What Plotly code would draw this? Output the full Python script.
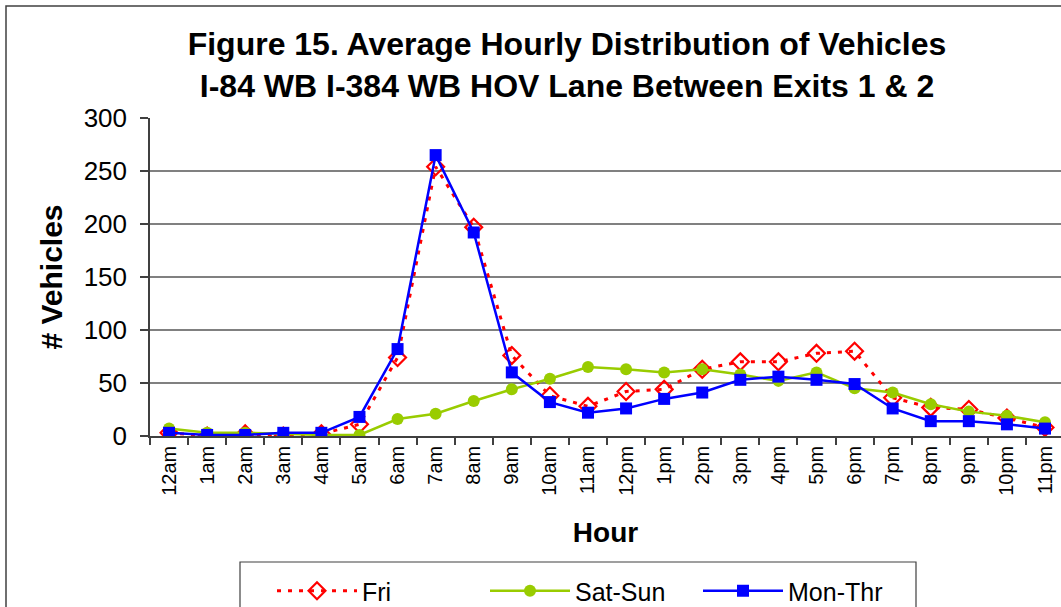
import plotly.graph_objects as go

hours = ["12am", "1am", "2am", "3am", "4am", "5am", "6am", "7am", "8am", "9am", "10am", "11am",
         "12pm", "1pm", "2pm", "3pm", "4pm", "5pm", "6pm", "7pm", "8pm", "9pm", "10pm", "11pm"]
fri = [3, 0, 2, 0, 2, 11, 74, 254, 197, 76, 38, 28, 42, 44, 63, 70, 70, 78, 80, 36, 27, 25, 17, 8]
sat_sun = [7, 3, 3, 2, 1, 1, 16, 21, 33, 44, 54, 65, 63, 60, 63, 58, 52, 60, 45, 41, 30, 23, 19, 13]
mon_thr = [3, 1, 1, 3, 3, 18, 82, 265, 192, 60, 32, 22, 26, 35, 41, 53, 56, 53, 49, 26, 14, 14, 11, 7]
y_ticks = [0, 50, 100, 150, 200, 250, 300]

FONT = "Arial, Liberation Sans, sans-serif"

fig = go.Figure()
fig.add_trace(go.Scatter(
    x=hours, y=fri, name="Fri", mode="lines+markers",
    line=dict(color="#FF0000", width=3, dash="4px,7px"),
    marker=dict(symbol="diamond-open", size=13, color="#FF0000", line=dict(width=2.2, color="#FF0000")),
))
fig.add_trace(go.Scatter(
    x=hours, y=sat_sun, name="Sat-Sun", mode="lines+markers",
    line=dict(color="#99CC00", width=2.5),
    marker=dict(symbol="circle", size=12, color="#99CC00"),
))
fig.add_trace(go.Scatter(
    x=hours, y=mon_thr, name="Mon-Thr", mode="lines+markers",
    line=dict(color="#0000FF", width=2.5),
    marker=dict(symbol="square", size=12, color="#0000FF"),
))

fig.update_layout(
    width=1061, height=607,
    margin=dict(l=150, r=0, t=118, b=171),
    paper_bgcolor="white", plot_bgcolor="white",
    font=dict(family=FONT, color="black"),
    title=dict(
        text="<b>Figure 15. Average Hourly Distribution of Vehicles<br>I-84 WB I-384 WB HOV Lane Between Exits 1 & 2</b>",
        x=567 / 1061, xanchor="center", xref="container",
        y=1 - 55 / 607, yanchor="middle", yref="container",
        font=dict(size=32, family=FONT, color="black"),
    ),
    showlegend=True,
    legend=dict(
        orientation="h", x=(272 - 150) / 911, xanchor="left",
        yref="container", y=(607 - 591) / 607, yanchor="middle",
        font=dict(size=25, family=FONT), itemwidth=80, entrywidth=118, entrywidthmode="pixels",
        bgcolor="rgba(0,0,0,0)",
    ),
    xaxis=dict(
        type="category", range=[-0.5, 23.42], automargin=False,
        showline=True, linecolor="#404040", linewidth=1.5,
        ticks="outside", tickson="boundaries", ticklen=7, tickcolor="#404040", tickwidth=1.5,
        tickangle=-90, tickfont=dict(size=20, family=FONT),
        showgrid=False,
        title=dict(text="<b>Hour</b>", font=dict(size=28, family=FONT), standoff=28),
    ),
    yaxis=dict(
        range=[0, 300], tickvals=y_ticks, automargin=False,
        showline=True, linecolor="#404040", linewidth=1.5,
        ticks="outside", ticklen=8, tickcolor="#404040", tickwidth=1.5,
        tickfont=dict(size=26, family=FONT), ticklabelstandoff=8,
        showgrid=True, gridcolor="#808080", gridwidth=1.5,
        zeroline=False,
        title=dict(text="<b># Vehicles</b>", font=dict(size=30, family=FONT), standoff=12),
    ),
    shapes=[
        dict(type="rect", xref="paper", yref="paper",
             x0=(6 - 150) / 911, x1=1.2, y0=-1.0, y1=(436 - 6) / 318,
             line=dict(color="#404040", width=1.5), fillcolor="rgba(0,0,0,0)", layer="below"),
        dict(type="rect", xref="paper", yref="paper",
             x0=(240 - 150) / 911, x1=(916 - 150) / 911, y0=-0.8, y1=-(562 - 436) / 318,
             line=dict(color="#404040", width=1.2), fillcolor="rgba(0,0,0,0)", layer="below"),
    ],
)

fig.write_html("out.html", config={"displayModeBar": False},
               post_script="document.body.style.margin='0px';document.body.style.overflow='hidden';")
